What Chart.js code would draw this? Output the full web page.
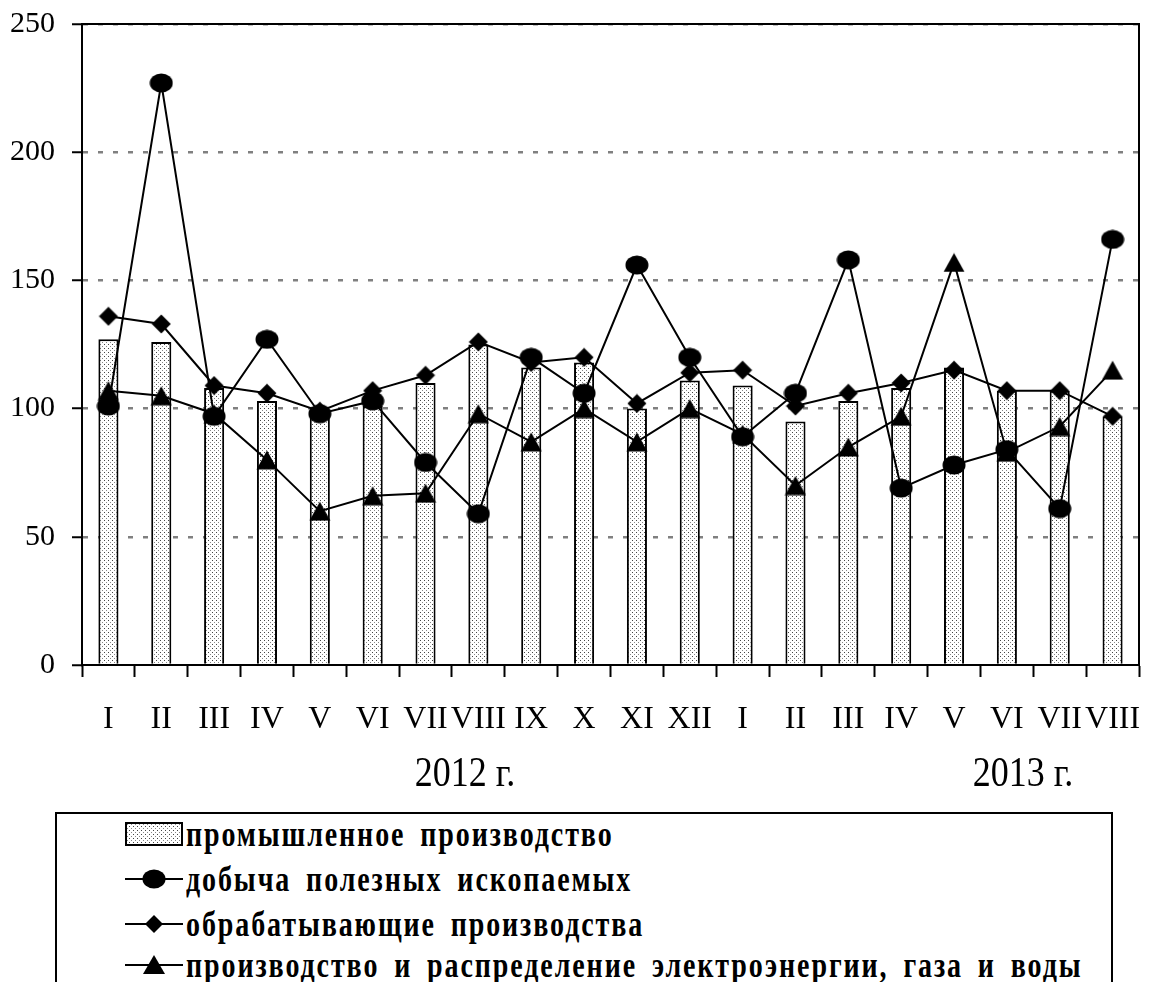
<!DOCTYPE html>
<html>
<head>
<meta charset="utf-8">
<script src="https://cdn.jsdelivr.net/npm/chart.js@4.4.1/dist/chart.umd.min.js"></script>
<style>
html,body{margin:0;padding:0;background:#fff;width:1149px;height:982px;overflow:hidden;}
#wrap{position:relative;width:1149px;height:982px;overflow:hidden;}
#c{position:absolute;left:0;top:0;}
.year{position:absolute;font-family:"Liberation Serif",serif;font-size:36px;color:#000;white-space:nowrap;transform:translate(-50%,-50%) scaleY(1.15);}
#legend{position:absolute;left:55px;top:812px;width:1058px;height:240px;border:2px solid #000;box-sizing:border-box;}
.li{position:absolute;left:68px;height:40px;display:flex;align-items:center;}
.li svg{flex:none;}
.li span{font-family:"Liberation Serif",serif;font-weight:bold;font-size:28px;letter-spacing:1.9px;word-spacing:6px;margin-left:3px;display:inline-block;transform:scaleY(1.3);transform-origin:left center;white-space:nowrap;color:#000;}
</style>
</head>
<body>
<div id="wrap">
<canvas id="c" width="1149" height="800"></canvas>
<div class="year" style="left:465px;top:772px;">2012 г.</div>
<div class="year" style="left:1023px;top:772px;">2013 г.</div>
<div id="legend">
  <div class="li" style="top:0px;">
    <svg width="58" height="40"><defs><pattern id="dots" width="4" height="4" patternUnits="userSpaceOnUse"><rect width="4" height="4" fill="#fff"/><rect x="0" y="0" width="1" height="1" fill="#444"/><rect x="2" y="2" width="1" height="1" fill="#888"/></pattern></defs><rect x="1" y="9" width="56" height="22" fill="url(#dots)" stroke="#000" stroke-width="2"/></svg>
    <span>промышленное производство</span>
  </div>
  <div class="li" style="top:45px;">
    <svg width="58" height="40"><line x1="0" y1="20" x2="58" y2="20" stroke="#000" stroke-width="2"/><ellipse cx="29" cy="20" rx="11.5" ry="9.5" fill="#000"/></svg>
    <span>добыча полезных ископаемых</span>
  </div>
  <div class="li" style="top:90px;">
    <svg width="58" height="40"><line x1="0" y1="20" x2="58" y2="20" stroke="#000" stroke-width="2"/><polygon points="29,11 38,20 29,29 20,20" fill="#000"/></svg>
    <span>обрабатывающие производства</span>
  </div>
  <div class="li" style="top:131px;">
    <svg width="58" height="40"><line x1="0" y1="20" x2="58" y2="20" stroke="#000" stroke-width="2"/><polygon points="29,10 40,29 18,29" fill="#000"/></svg>
    <span>производство и распределение электроэнергии, газа и воды</span>
  </div>
</div>
</div>
<script>
const categories = ['I','II','III','IV','V','VI','VII','VIII','IX','X','XI','XII','I','II','III','IV','V','VI','VII','VIII'];
const industry      = [127,126,108,103,97,101,110,125,116,118,100,111,109,95,103,108,116,107,107,97];
const mining        = [101,227,97,127,98,103,79,59,120,106,156,120,89,106,158,69,78,84,61,166];
const manufacturing = [136,133,109,106,99,107,113,126,118,120,102,114,115,101,106,110,115,107,107,97];
const energy        = [107,105,98,80,60,66,67,98,87,100,87,100,90,70,85,97,157,83,93,115];
const yTicks = [0,50,100,150,200,250];
const seriesNames = ['промышленное производство','добыча полезных ископаемых','обрабатывающие производства','производство и распределение электроэнергии, газа и воды'];

function makePattern(ctx){
  const p=document.createElement('canvas');p.width=4;p.height=4;
  const g=p.getContext('2d');
  g.fillStyle='#fff';g.fillRect(0,0,4,4);
  g.fillStyle='#444';g.fillRect(0,0,1,1);
  g.fillStyle='#888';g.fillRect(2,2,1,1);
  return ctx.createPattern(p,'repeat');
}
function marker(kind){
  const c=document.createElement('canvas');
  const w = kind==='ellipse'?24:(kind==='diamond'?20:22);
  const h = 20;
  c.width=w;c.height=h;
  const g=c.getContext('2d');g.fillStyle='#000';g.beginPath();
  if(kind==='ellipse'){g.ellipse(w/2,h/2,11.5,9.5,0,0,Math.PI*2);}
  else if(kind==='diamond'){g.moveTo(10,0.5);g.lineTo(19.5,10);g.lineTo(10,19.5);g.lineTo(0.5,10);g.closePath();}
  else {g.moveTo(11,0.5);g.lineTo(21.5,19.5);g.lineTo(0.5,19.5);g.closePath();}
  g.fill();
  return c;
}
function noPad(s){s.paddingLeft=0;s.paddingRight=0;s.paddingTop=0;s.paddingBottom=0;}

const canvas=document.getElementById('c');
const ctx=canvas.getContext('2d');

const framePlugin={
  id:'frame',
  beforeDatasetsDraw(chart){
    const a=chart.chartArea,g=chart.ctx;
    g.save();g.strokeStyle='#000';g.lineWidth=2;
    g.beginPath();g.moveTo(a.left,a.bottom);g.lineTo(a.left,a.top);g.lineTo(a.right,a.top);g.lineTo(a.right,a.bottom);g.stroke();
    g.restore();
  }
};

const lineBase={type:'line',borderColor:'#000',borderWidth:2,tension:0,fill:false,pointRadius:10,pointHoverRadius:10,pointBackgroundColor:'#000',pointBorderWidth:0};

new Chart(ctx,{
  data:{
    labels:categories,
    datasets:[
      {type:'bar',label:seriesNames[0],data:industry,backgroundColor:makePattern(ctx),borderColor:'#000',borderWidth:2,barPercentage:0.38,categoryPercentage:1,order:4},
      Object.assign({},lineBase,{label:seriesNames[1],data:mining,pointStyle:marker('ellipse'),order:3}),
      Object.assign({},lineBase,{label:seriesNames[2],data:manufacturing,pointStyle:marker('diamond'),order:2}),
      Object.assign({},lineBase,{label:seriesNames[3],data:energy,pointStyle:marker('triangle'),order:1})
    ]
  },
  options:{
    responsive:false,animation:false,
    layout:{padding:{top:24,right:3,left:0,bottom:0}},
    plugins:{legend:{display:false},tooltip:{enabled:false}},
    scales:{
      x:{
        type:'category',offset:true,
        grid:{display:true,drawOnChartArea:false,drawTicks:true,tickLength:12,tickColor:'#000',tickWidth:2,offset:true},
        border:{display:true,color:'#000',width:2},
        ticks:{autoSkip:false,maxRotation:0,minRotation:0,padding:23,color:'#000',font:{family:'"Liberation Serif"',size:32}},
        afterFit(s){s.height=135;noPad(s);}
      },
      y:{
        min:0,max:250,
        afterBuildTicks(s){s.ticks=yTicks.map(v=>({value:v}));},
        grid:{color:c=>(c.tick&&c.tick.value===0)?'rgba(0,0,0,0)':'#808080',lineWidth:2.5,drawTicks:true,tickLength:10,tickColor:'#000',tickWidth:2,tickBorderDash:[]},
        border:{display:true,color:'#000',width:2,dash:[5,10]},
        ticks:{padding:17,color:'#000',font:{family:'"Liberation Serif"',size:30}},
        afterFit(s){s.width=82;noPad(s);}
      }
    }
  },
  plugins:[framePlugin]
});
</script>
</body>
</html>
